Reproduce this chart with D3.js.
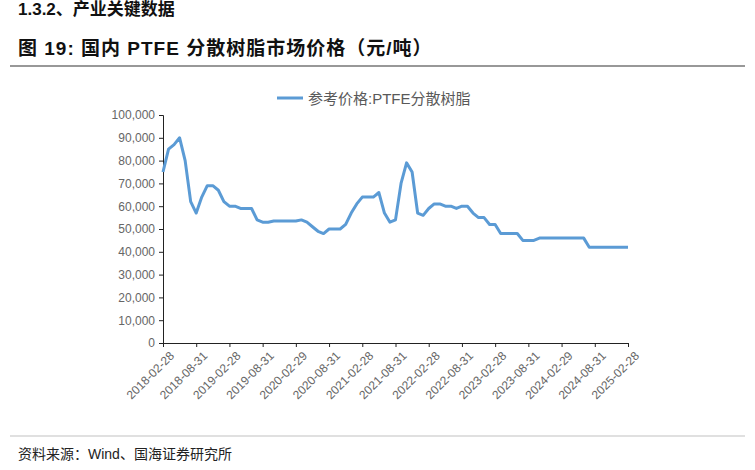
<!DOCTYPE html><html><head><meta charset="utf-8">
<script src="https://cdn.jsdelivr.net/npm/d3@7"></script>
<style>body{margin:0;background:#fff}text{font-family:"Liberation Sans","Noto Sans CJK SC",sans-serif}</style></head><body>
<svg id="c" width="755" height="470"></svg>
<script>
const startDate = "2018-02-28";
const prices = [75,85,87,90,80,62,57,64,69,69,67,62,60,60,59,59,59,54,53,53,53.5,53.5,53.5,53.5,53.5,54,53,51,49,48,50,50,50,52,57,61,64,64,64,66,57,53,54,70,79,75,57,56,59,61,61,60,60,59,60,60,57,55,55,52,52,48,48,48,48,45,45,45,46,46,46,46,46,46,46,46,46,42,42,42,42,42,42,42,42].map(v=>v*1000);
const xTicks = ["2018-02-28","2018-08-31","2019-02-28","2019-08-31","2020-02-29","2020-08-31","2021-02-28","2021-08-31","2022-02-28","2022-08-31","2023-02-28","2023-08-31","2024-02-29","2024-08-31","2025-02-28"];
const yTicks = [0,10000,20000,30000,40000,50000,60000,70000,80000,90000,100000];
const seriesName = "参考价格:PTFE分散树脂";
const svg = d3.select("#c");
const x = d3.scaleLinear().domain([0,84]).range([163,628]);
const y = d3.scaleLinear().domain([0,100000]).range([343,115]);
svg.append("text").attr("x",18).attr("y",15).attr("font-size",17).attr("font-weight","bold").attr("fill","#111").text("1.3.2、产业关键数据");
svg.append("text").attr("x",18).attr("y",55).attr("font-size",19).attr("font-weight","bold").attr("letter-spacing",1).attr("fill","#111").text("图 19:  国内 PTFE 分散树脂市场价格（元/吨）");
svg.append("line").attr("x1",10).attr("x2",745).attr("y1",66).attr("y2",66).attr("stroke","#333").attr("stroke-width",1.2);
svg.append("line").attr("x1",10).attr("x2",745).attr("y1",436).attr("y2",436).attr("stroke","#999").attr("stroke-width",0.6);
svg.append("text").attr("x",18).attr("y",459).attr("font-size",14).attr("fill","#222").text("资料来源：Wind、国海证券研究所");
const ya = svg.append("g").attr("transform","translate(163,0)").call(d3.axisLeft(y).tickValues(yTicks).tickFormat(d3.format(",")).tickSize(4));
ya.select(".domain").attr("stroke","#222");ya.selectAll("line").attr("stroke","#222");
ya.selectAll("text").attr("font-size",12).attr("fill","#666").attr("x",-8);
const xa = svg.append("g").attr("transform","translate(0,343)").call(d3.axisBottom(x).tickValues(d3.range(0,85,6)).tickFormat((d,i)=>xTicks[i]).tickSize(4));
xa.select(".domain").attr("stroke","#222");xa.selectAll("line").attr("stroke","#222");
xa.selectAll("text").attr("font-size",12).attr("fill","#666").attr("text-anchor","end").attr("dy","0.3em").attr("transform","translate(4,6) rotate(-45)");
svg.append("path").datum(prices).attr("fill","none").attr("stroke","#5b9bd5").attr("stroke-width",3).attr("stroke-linejoin","round")
 .attr("d",d3.line().x((d,i)=>x(i)).y(d=>y(d)));
svg.append("line").attr("x1",277).attr("x2",303).attr("y1",98).attr("y2",98).attr("stroke","#5b9bd5").attr("stroke-width",3);
svg.append("text").attr("x",308).attr("y",104).attr("font-size",15).attr("fill","#595959").text(seriesName);
</script></body></html>
